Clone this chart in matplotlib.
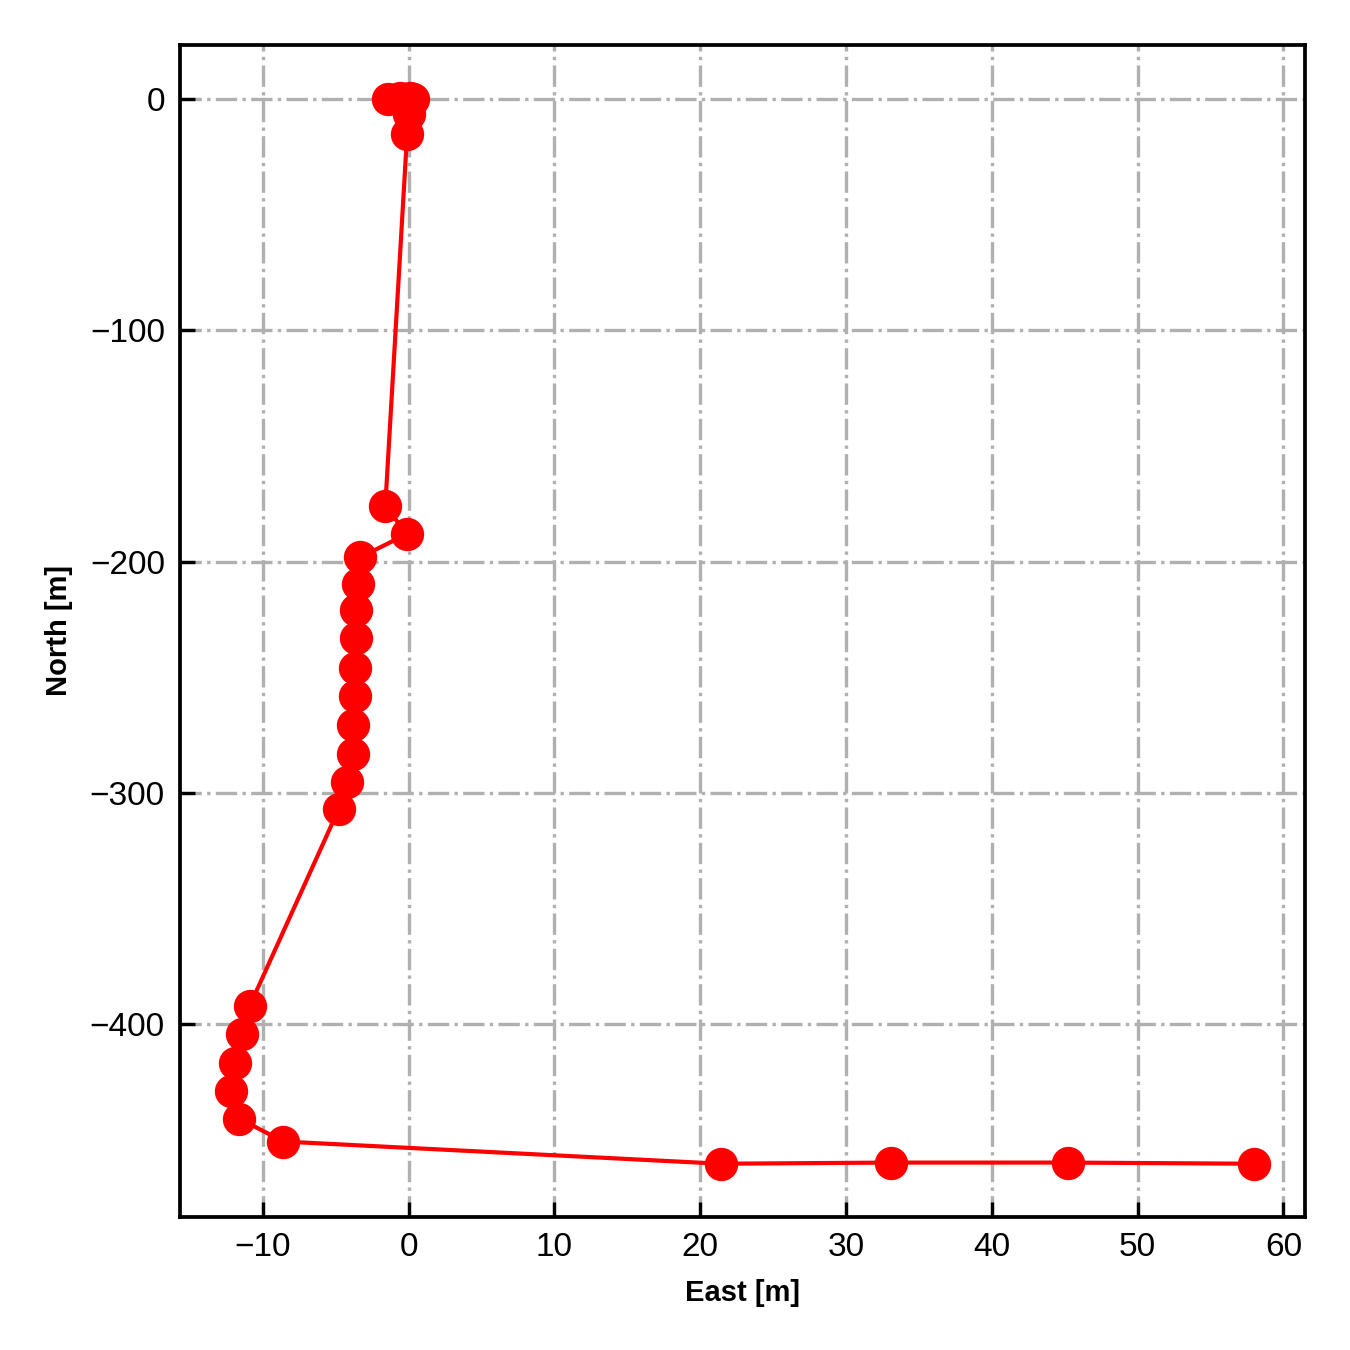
import matplotlib
matplotlib.use("Agg")
import matplotlib.pyplot as plt

plt.rcParams['font.family'] = ['Liberation Sans', 'DejaVu Sans']

# trajectory positions
east = [-1.4, -0.6, 0.1, 0.3, 0.0, -0.1, -1.6, -0.1, -3.3, -3.5, -3.6, -3.6,
        -3.7, -3.7, -3.8, -3.8, -4.2, -4.8, -10.9, -11.4, -11.9, -12.2, -11.6,
        -8.6, 21.4, 33.1, 45.2, 58.0]
north = [0.0, 0.5, 0.5, 0.0, -6.5, -15.0, -176.0, -188.0, -198.0, -209.5,
         -221.0, -233.0, -246.0, -258.0, -270.5, -283.0, -295.0, -307.0,
         -392.0, -404.0, -416.5, -428.6, -440.7, -450.6, -460.2, -459.7,
         -459.7, -460.2]

fig = plt.figure(figsize=(4.5, 4.5), dpi=300)
ax = fig.add_subplot(111)
fig.subplots_adjust(left=0.133, right=0.967, bottom=0.0985, top=0.967)

ax.plot(east, north, '-o', color='red', lw=1.0, markersize=7)

ax.set_xlabel("East [m]", fontsize=7, fontweight='bold')
ax.set_ylabel("North [m]", fontsize=7, fontweight='bold')
ax.tick_params(direction='in', labelsize=8, length=3.5)
ax.set_xticks(range(-10, 61, 10))
ax.set_yticks(range(-400, 1, 100))
ax.grid(True, linestyle='-.', color='#b0b0b0', lw=0.8)
ax.set_axisbelow(True)
for s in ax.spines.values():
    s.set_linewidth(0.9)

plt.savefig("out.png", dpi=300)
